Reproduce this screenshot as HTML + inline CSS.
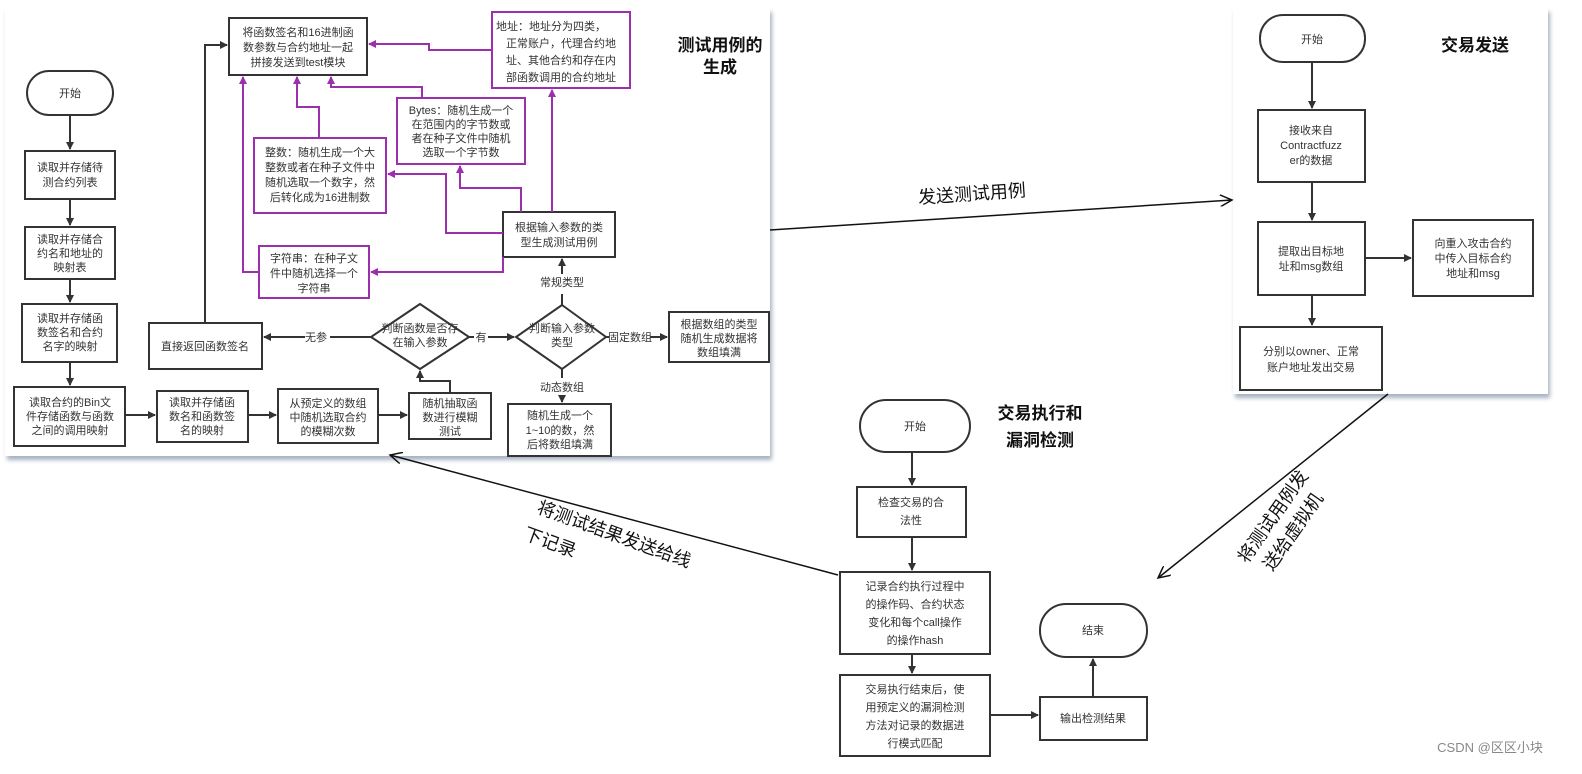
<!DOCTYPE html>
<html><head><meta charset="utf-8"><style>
html,body{margin:0;padding:0;background:#fff;}
svg{display:block;font-family:"Liberation Sans","Noto Sans CJK SC",sans-serif;}
.b{fill:#fff;stroke:#333;stroke-width:2;}
.p{fill:#fff;stroke:#9b2fae;stroke-width:2;}
.l{fill:none;stroke:#333;stroke-width:2;}
.lp{fill:none;stroke:#9b2fae;stroke-width:2;}
text{font-size:11px;fill:#333;text-anchor:middle;}
.t{font-size:17px;font-weight:bold;fill:#111;}
.big{font-size:18px;fill:#111;}
</style></head><body>
<svg width="1582" height="774" viewBox="0 0 1582 774">
<defs>
<marker id="a" markerWidth="8" markerHeight="8" refX="7" refY="4" orient="auto" markerUnits="userSpaceOnUse"><path d="M0,0L8,4L0,8z" fill="#333"/></marker>
<marker id="ap" markerWidth="8" markerHeight="8" refX="7" refY="4" orient="auto" markerUnits="userSpaceOnUse"><path d="M0,0L8,4L0,8z" fill="#9b2fae"/></marker>
<marker id="ak" markerWidth="14" markerHeight="12" refX="12" refY="6" orient="auto" markerUnits="userSpaceOnUse"><path d="M0,0L12,6L0,12" fill="none" stroke="#111" stroke-width="1.5"/></marker>
<filter id="sh"><feDropShadow dx="2" dy="4" stdDeviation="2" flood-color="#8090a8" flood-opacity="0.7"/></filter>
</defs>
<rect x="5" y="8" width="765" height="448" fill="#fff" filter="url(#sh)"/>
<rect x="1233" y="8" width="315" height="386" fill="#fff" filter="url(#sh)"/>

<!-- left panel -->
<rect class="b" x="27" y="71" width="86" height="44" rx="22"/><text x="70" y="97">开始</text>
<rect class="b" x="25" y="151" width="90" height="48"/><text x="70" y="171">读取并存储待</text><text x="70" y="186">测合约列表</text>
<rect class="b" x="25" y="227" width="90" height="52"/><text x="70" y="243">读取并存储合</text><text x="70" y="257">约名和地址的</text><text x="70" y="271">映射表</text>
<rect class="b" x="22" y="304" width="95" height="58"/><text x="70" y="322">读取并存储函</text><text x="70" y="336">数签名和合约</text><text x="70" y="350">名字的映射</text>
<rect class="b" x="14" y="387" width="111" height="59"/><text x="70" y="406">读取合约的Bin文</text><text x="70" y="420">件存储函数与函数</text><text x="70" y="434">之间的调用映射</text>
<rect class="b" x="157" y="391" width="91" height="51"/><text x="202" y="406">读取并存储函</text><text x="202" y="420">数名和函数签</text><text x="202" y="434">名的映射</text>
<rect class="b" x="278" y="389" width="100" height="54"/><text x="328" y="407">从预定义的数组</text><text x="328" y="421">中随机选取合约</text><text x="328" y="435">的模糊次数</text>
<rect class="b" x="409" y="393" width="82" height="46"/><text x="450" y="407">随机抽取函</text><text x="450" y="421">数进行模糊</text><text x="450" y="435">测试</text>
<rect class="b" x="149" y="323" width="113" height="46"/><text x="205" y="350">直接返回函数签名</text>
<polygon class="b" points="420,304 469,337 420,369 371,337"/><text x="420" y="332">判断函数是否存</text><text x="420" y="346">在输入参数</text>
<polygon class="b" points="562,305 606,337 562,369 516,337"/><text x="562" y="332">判断输入参数</text><text x="562" y="346">类型</text>
<rect class="b" x="669" y="312" width="100" height="50"/><text x="719" y="328">根据数组的类型</text><text x="719" y="342">随机生成数据将</text><text x="719" y="356">数组填满</text>
<rect class="b" x="508" y="404" width="103" height="52"/><text x="560" y="419">随机生成一个</text><text x="560" y="434">1~10的数，然</text><text x="560" y="448">后将数组填满</text>
<rect class="b" x="503" y="212" width="112" height="45"/><text x="559" y="231">根据输入参数的类</text><text x="559" y="246">型生成测试用例</text>
<rect class="p" x="259" y="246" width="110" height="52"/><text x="314" y="262">字符串：在种子文</text><text x="314" y="277">件中随机选择一个</text><text x="314" y="292">字符串</text>
<rect class="p" x="254" y="138" width="132" height="75"/><text x="320" y="156">整数：随机生成一个大</text><text x="320" y="171">整数或者在种子文件中</text><text x="320" y="186">随机选取一个数字，然</text><text x="320" y="201">后转化成为16进制数</text>
<rect class="p" x="397" y="98" width="128" height="66"/><text x="461" y="114">Bytes：随机生成一个</text><text x="461" y="128">在范围内的字节数或</text><text x="461" y="142">者在种子文件中随机</text><text x="461" y="156">选取一个字节数</text>
<rect class="p" x="492" y="12" width="138" height="76"/><text x="561" y="30" dx="-10">地址：地址分为四类，</text><text x="561" y="47">正常账户，代理合约地</text><text x="561" y="64">址、其他合约和存在内</text><text x="561" y="81">部函数调用的合约地址</text>
<rect class="b" x="229" y="18" width="138" height="57"/><text x="298" y="36">将函数签名和16进制函</text><text x="298" y="51">数参数与合约地址一起</text><text x="298" y="66">拼接发送到test模块</text>
<text class="t" x="720" y="51">测试用例的</text><text class="t" x="720" y="73">生成</text>

<path class="l" d="M70,115V149" marker-end="url(#a)"/>
<path class="l" d="M70,199V225" marker-end="url(#a)"/>
<path class="l" d="M70,279V302" marker-end="url(#a)"/>
<path class="l" d="M70,362V385" marker-end="url(#a)"/>
<path class="l" d="M125,415H155" marker-end="url(#a)"/>
<path class="l" d="M248,415H276" marker-end="url(#a)"/>
<path class="l" d="M378,415H407" marker-end="url(#a)"/>
<path class="l" d="M450,393V381H420V371" marker-end="url(#a)"/>
<path class="l" d="M371,337H330 M305,337H264" marker-end="url(#a)"/>
<text x="316" y="341">无参</text>
<path class="l" d="M469,337H474 M488,337H514" marker-end="url(#a)"/>
<text x="481" y="341">有</text>
<path class="l" d="M606,337H609 M650,337H667" marker-end="url(#a)"/>
<text x="630" y="341">固定数组</text>
<path class="l" d="M562,369V378 M562,396V402" marker-end="url(#a)"/>
<text x="562" y="391">动态数组</text>
<path class="l" d="M562,305V294 M562,274V259" marker-end="url(#a)"/>
<text x="562" y="286">常规类型</text>
<path class="l" d="M205,323V45H227" marker-end="url(#a)"/>

<path class="lp" d="M503,257V272H371" marker-end="url(#ap)"/>
<path class="lp" d="M503,233H446V174H388" marker-end="url(#ap)"/>
<path class="lp" d="M521,212V188H460V166" marker-end="url(#ap)"/>
<path class="lp" d="M552,212V90" marker-end="url(#ap)"/>
<path class="lp" d="M492,50H429V44H369" marker-end="url(#ap)"/>
<path class="lp" d="M422,98V87H331V77" marker-end="url(#ap)"/>
<path class="lp" d="M319,138V107H297V77" marker-end="url(#ap)"/>
<path class="lp" d="M259,272H243V77" marker-end="url(#ap)"/>

<!-- right panel -->
<rect class="b" x="1260" y="15" width="105" height="47" rx="23"/><text x="1312" y="43">开始</text>
<text class="t" x="1475" y="51">交易发送</text>
<rect class="b" x="1258" y="110" width="107" height="72"/><text x="1311" y="134">接收来自</text><text x="1311" y="149">Contractfuzz</text><text x="1311" y="164">er的数据</text>
<rect class="b" x="1258" y="222" width="107" height="73"/><text x="1311" y="255">提取出目标地</text><text x="1311" y="270">址和msg数组</text>
<rect class="b" x="1413" y="220" width="120" height="76"/><text x="1473" y="247">向重入攻击合约</text><text x="1473" y="262">中传入目标合约</text><text x="1473" y="277">地址和msg</text>
<rect class="b" x="1240" y="327" width="142" height="63"/><text x="1311" y="355">分别以owner、正常</text><text x="1311" y="371">账户地址发出交易</text>
<path class="l" d="M1312,62V108" marker-end="url(#a)"/>
<path class="l" d="M1312,182V220" marker-end="url(#a)"/>
<path class="l" d="M1365,258H1411" marker-end="url(#a)"/>
<path class="l" d="M1312,295V325" marker-end="url(#a)"/>

<!-- bottom -->
<rect class="b" x="860" y="400" width="110" height="52" rx="26"/><text x="915" y="430">开始</text>
<text class="t" x="1040" y="419">交易执行和</text><text class="t" x="1040" y="446">漏洞检测</text>
<rect class="b" x="857" y="487" width="109" height="50"/><text x="911" y="506">检查交易的合</text><text x="911" y="524">法性</text>
<rect class="b" x="840" y="572" width="150" height="82"/><text x="915" y="590">记录合约执行过程中</text><text x="915" y="608">的操作码、合约状态</text><text x="915" y="626">变化和每个call操作</text><text x="915" y="644">的操作hash</text>
<rect class="b" x="840" y="675" width="150" height="81"/><text x="915" y="693">交易执行结束后，使</text><text x="915" y="711">用预定义的漏洞检测</text><text x="915" y="729">方法对记录的数据进</text><text x="915" y="747">行模式匹配</text>
<rect class="b" x="1040" y="697" width="107" height="43"/><text x="1093" y="722">输出检测结果</text>
<rect class="b" x="1040" y="604" width="107" height="53" rx="26"/><text x="1093" y="634">结束</text>
<path class="l" d="M912,452V485" marker-end="url(#a)"/>
<path class="l" d="M912,537V570" marker-end="url(#a)"/>
<path class="l" d="M912,654V673" marker-end="url(#a)"/>
<path class="l" d="M990,715H1038" marker-end="url(#a)"/>
<path class="l" d="M1093,697V659" marker-end="url(#a)"/>

<!-- big connectors -->
<path d="M770,230L1232,200" stroke="#111" stroke-width="1.5" fill="none" marker-end="url(#ak)"/>
<text class="big" x="972" y="200" transform="rotate(-4 972 195)">发送测试用例</text>
<path d="M1388,394L1158,578" stroke="#111" stroke-width="1.5" fill="none" marker-end="url(#ak)"/>
<text class="big" x="1278" y="520" transform="rotate(-55 1278 520)">将测试用例发</text>
<text class="big" x="1298" y="535" transform="rotate(-55 1298 535)">送给虚拟机</text>
<path d="M838,575L390,455" stroke="#111" stroke-width="1.5" fill="none" marker-end="url(#ak)"/>
<text class="big" x="612" y="540" transform="rotate(20 612 540)">将测试结果发送给线</text>
<text class="big" x="548" y="548" transform="rotate(20 548 548)">下记录</text>

<text x="1490" y="752" style="font-size:13px;fill:#888">CSDN @区区小块</text>
</svg>
</body></html>
